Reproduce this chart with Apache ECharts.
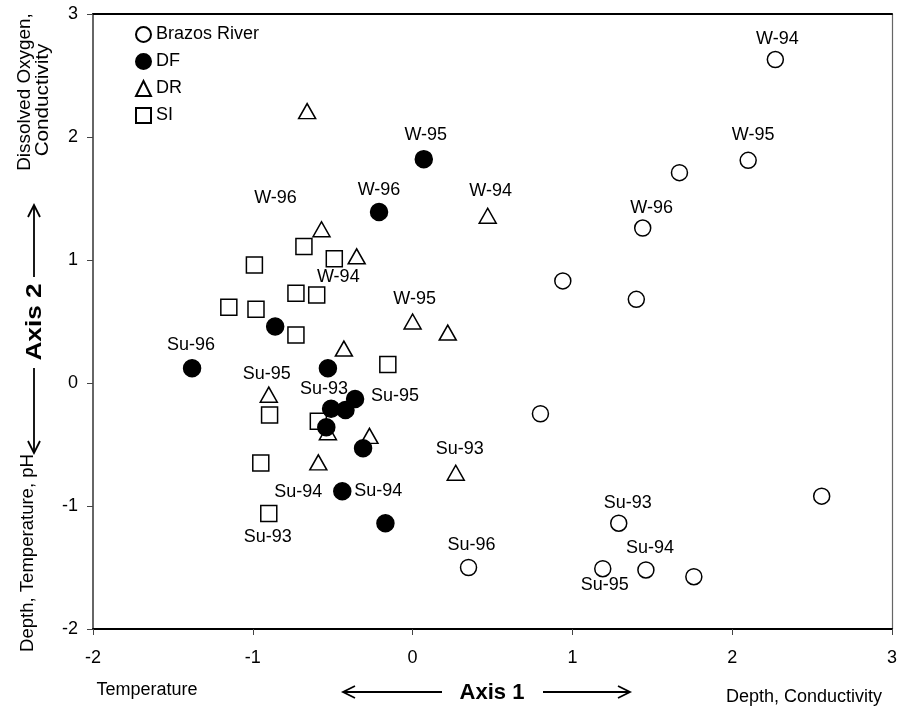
<!DOCTYPE html>
<html>
<head>
<meta charset="utf-8">
<script src="https://cdn.jsdelivr.net/npm/echarts@6/dist/echarts.min.js"></script>
<style>
  html, body { margin: 0; padding: 0; background: #fff; }
  #chart { width: 900px; height: 708px; }
</style>
</head>
<body>
<div id="chart"></div>
<script>
  // [axis1, axis2, sample label]
  var brazos = [
    [2.27, 2.63, 'W-94'], [2.10, 1.81, 'W-95'], [1.67, 1.71, ''], [1.44, 1.26, 'W-96'],
    [0.94, 0.83, ''], [1.40, 0.68, ''], [0.80, -0.25, ''], [2.56, -0.92, ''],
    [1.29, -1.14, 'Su-93'], [0.35, -1.50, 'Su-96'], [1.19, -1.51, 'Su-95'],
    [1.46, -1.52, 'Su-94'], [1.76, -1.575, '']
  ];
  var df = [
    [0.07, 1.82, 'W-95'], [-0.21, 1.39, 'W-96'], [-0.86, 0.46, ''], [-1.38, 0.12, 'Su-96'],
    [-0.53, 0.12, ''], [-0.36, -0.13, 'Su-95'], [-0.42, -0.22, ''], [-0.51, -0.21, 'Su-93'],
    [-0.54, -0.36, ''], [-0.31, -0.53, ''], [-0.44, -0.88, 'Su-94'], [-0.17, -1.14, '']
  ];
  var dr = [
    [-0.66, 2.21, ''], [0.47, 1.36, 'W-94'], [-0.57, 1.25, 'W-96'], [-0.35, 1.03, ''],
    [0.00, 0.50, 'W-95'], [0.22, 0.41, ''], [-0.43, 0.28, ''], [-0.90, -0.095, 'Su-95'],
    [-0.53, -0.40, ''], [-0.27, -0.43, ''], [-0.59, -0.645, 'Su-94'], [0.27, -0.73, 'Su-93']
  ];
  var si = [
    [-0.68, 1.11, ''], [-0.49, 1.01, 'W-94'], [-0.99, 0.96, ''], [-0.73, 0.73, ''],
    [-0.60, 0.715, ''], [-1.15, 0.615, ''], [-0.98, 0.60, ''], [-0.73, 0.39, ''],
    [-0.155, 0.15, ''], [-0.895, -0.26, ''], [-0.59, -0.31, ''], [-0.95, -0.65, ''],
    [-0.90, -1.06, 'Su-93']
  ];
  var ticks = [-2, -1, 0, 1, 2, 3];

  // where each sample label sits relative to its marker (px)
  var labelOffsets = {
    'Brazos River': { 'W-94': [2, -20], 'W-95': [5, -25], 'W-96': [9, -20], 'Su-93': [9, -20],
                      'Su-96': [3, -22], 'Su-95': [2, 16], 'Su-94': [4, -22] },
    'DF': { 'W-95': [2, -24], 'W-96': [0, -22], 'Su-96': [-1, -23], 'Su-95': [40, -3],
            'Su-93': [-7, -20], 'Su-94': [36, 0] },
    'DR': { 'W-94': [3, -25], 'W-96': [-46, -31], 'W-95': [2, -22], 'Su-95': [-2, -21],
            'Su-94': [-20, 30], 'Su-93': [4, -24] },
    'SI': { 'W-94': [4, 18], 'Su-93': [-1, 24] }
  };

  var FONT = '"Liberation Sans", Arial, sans-serif';

  function points(name, arr) {
    return arr.map(function (p) {
      var item = { value: p };
      if (p[2]) {
        item.label = { show: true, offset: labelOffsets[name][p[2]] };
      }
      return item;
    });
  }

  function scatter(name, arr, symbol, size, fill, z) {
    return {
      name: name,
      type: 'scatter',
      symbol: symbol,
      symbolSize: size,
      z: z,
      itemStyle: { color: fill, borderColor: '#000', borderWidth: 1.5, opacity: 1 },
      label: {
        show: false,
        position: 'inside',
        formatter: function (d) { return d.data.value[2]; },
        color: '#000',
        fontSize: 18,
        fontFamily: FONT
      },
      emphasis: { disabled: true },
      data: points(name, arr)
    };
  }

  function arrowV(x, y1, y2) {
    var d = y2 > y1 ? -1 : 1;
    return [
      { type: 'line', shape: { x1: x, y1: y1, x2: x, y2: y2 }, style: { stroke: '#000', lineWidth: 1.8 } },
      { type: 'polyline', shape: { points: [[x - 6, y2 + d * 12], [x, y2], [x + 6, y2 + d * 12]] },
        style: { stroke: '#000', lineWidth: 1.8, fill: null } }
    ];
  }
  function arrowH(y, x1, x2) {
    var d = x2 > x1 ? -1 : 1;
    return [
      { type: 'line', shape: { x1: x1, y1: y, x2: x2, y2: y }, style: { stroke: '#000', lineWidth: 1.8 } },
      { type: 'polyline', shape: { points: [[x2 + d * 12, y - 6], [x2, y], [x2 + d * 12, y + 6]] },
        style: { stroke: '#000', lineWidth: 1.8, fill: null } }
    ];
  }
  function vtext(text, x, y, size, weight, stretch) {
    return {
      type: 'text', x: x, y: y, rotation: Math.PI / 2, scaleX: stretch,
      style: { text: text, fill: '#000', font: weight + ' ' + size + 'px ' + FONT,
               textAlign: 'center', textVerticalAlign: 'middle' }
    };
  }
  function htext(text, x, y, size, weight) {
    return {
      type: 'text', x: x, y: y,
      style: { text: text, fill: '#000', font: weight + ' ' + size + 'px ' + FONT,
               textAlign: 'center', textVerticalAlign: 'middle' }
    };
  }

  var chart = echarts.init(document.getElementById('chart'));
  chart.setOption({
    animation: false,
    backgroundColor: '#fff',
    grid: { left: 93, right: 6, top: 14, bottom: 79, containLabel: false },
    legend: {
      orient: 'vertical',
      left: 130,
      top: 20,
      itemWidth: 15,
      itemHeight: 15,
      itemGap: 8,
      textStyle: { color: '#000', fontSize: 18, fontFamily: FONT, lineHeight: 19 },
      data: [
        { name: 'Brazos River', icon: 'circle' },
        { name: 'DF', icon: 'circle' },
        { name: 'DR', icon: 'triangle' },
        { name: 'SI', icon: 'rect' }
      ]
    },
    xAxis: [{
      type: 'value', min: ticks[0], max: ticks[ticks.length - 1], interval: 1,
      axisLine: { show: true, onZero: false, lineStyle: { color: '#000', width: 2 } },
      axisTick: { show: true, length: 6, lineStyle: { color: '#444', width: 1 } },
      axisLabel: { color: '#000', fontSize: 18, fontFamily: FONT, margin: 20 },
      splitLine: { show: false }
    }, {
      type: 'value', position: 'top', min: ticks[0], max: ticks[ticks.length - 1],
      axisLine: { show: true, onZero: false, lineStyle: { color: '#000', width: 2 } },
      axisTick: { show: false }, axisLabel: { show: false }, splitLine: { show: false }
    }],
    yAxis: [{
      type: 'value', min: ticks[0], max: ticks[ticks.length - 1], interval: 1,
      axisLine: { show: true, onZero: false, lineStyle: { color: '#333', width: 1.5 } },
      axisTick: { show: true, length: 6, lineStyle: { color: '#444', width: 1 } },
      axisLabel: { color: '#000', fontSize: 18, fontFamily: FONT, margin: 15 },
      splitLine: { show: false }
    }, {
      type: 'value', position: 'right', min: ticks[0], max: ticks[ticks.length - 1],
      axisLine: { show: true, onZero: false, lineStyle: { color: '#666', width: 1.2 } },
      axisTick: { show: false }, axisLabel: { show: false }, splitLine: { show: false }
    }],
    series: [
      scatter('Brazos River', brazos, 'circle', 16, '#fff', 2),
      scatter('DR', dr, 'triangle', [17, 15], '#fff', 3),
      scatter('SI', si, 'rect', 16, '#fff', 3),
      scatter('DF', df, 'circle', 17, '#000', 4)
    ],
    graphic: [].concat(
      arrowV(34, 277, 205),
      arrowV(34, 368, 453),
      arrowH(692, 442, 343),
      arrowH(692, 543, 630),
      [
        vtext('Dissolved Oxygen,', 25, 92, 18, 'normal', 1.05),
        vtext('Conductivity', 43, 100, 18, 'normal', 1.15),
        vtext('Axis 2', 35, 322, 22, 'bold', 1.19),
        vtext('Depth, Temperature, pH', 28, 553, 18, 'normal', 1.03),
        htext('Axis 1', 492, 693, 22, 'bold'),
        htext('Temperature', 147, 690, 18, 'normal'),
        htext('Depth, Conductivity', 804, 697, 18, 'normal')
      ]
    )
  });
</script>
</body>
</html>
